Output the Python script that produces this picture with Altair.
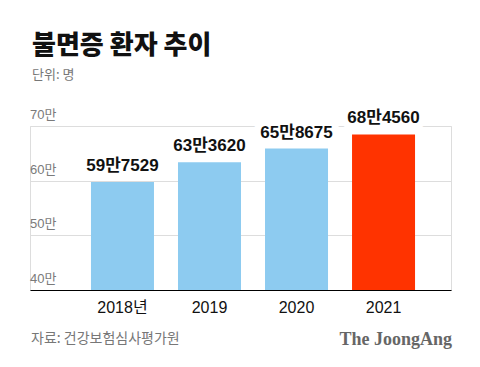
import altair as alt
import pandas as pd

years = ["2018년", "2019", "2020", "2021"]
values = [597529, 633620, 658675, 684560]
value_labels = ["59만7529", "63만3620", "65만8675", "68만4560"]
bar_colors = ["#8DCBF0", "#8DCBF0", "#8DCBF0", "#FF3300"]
tick_values = [400000, 500000, 600000, 700000]
tick_labels = ["40만", "50만", "60만", "70만"]

FONT = "'Liberation Sans', 'Noto Sans CJK KR', sans-serif"
KFONT = "'Noto Sans CJK KR', sans-serif"

df = pd.DataFrame({"year": years, "value": values, "label": value_labels, "color": bar_colors})
ticks_df = pd.DataFrame({"v": tick_values, "t": tick_labels})

W, H = 421, 164

x_enc = alt.X("year:N", sort=years,
              scale=alt.Scale(paddingInner=0.276, paddingOuter=0.557, align=0.629),
              axis=alt.Axis(title=None, labelAngle=0, ticks=False, domainColor="#000000",
                            domainWidth=1.2, labelFontSize=16, labelColor="#111111",
                            labelFont=FONT, labelPadding=9, grid=False, zindex=2))
y_scale = alt.Scale(domain=[400000, 700000], nice=False, zero=False)
y_enc = alt.Y("value:Q", scale=y_scale,
              axis=alt.Axis(title=None, labels=False, ticks=False, domain=False,
                            values=tick_values, grid=True, gridColor="#DDDDDD", gridWidth=1))

base = alt.Chart(df)

halo = base.mark_text(baseline="bottom", dy=-7, fontSize=17, fontWeight="bold", font=FONT,
                      color="white", stroke="white", strokeWidth=14, strokeJoin="round").encode(
    x=x_enc, y=y_enc, text="label:N")

bars = base.mark_bar(clip=True).encode(
    x=x_enc, y=y_enc,
    color=alt.Color("color:N", scale=None))

texts = base.mark_text(baseline="bottom", dy=-7, fontSize=17, fontWeight="bold", font=FONT,
                       color="#111111").encode(x=x_enc, y=y_enc, text="label:N")

ylabels = alt.Chart(ticks_df).mark_text(align="left", baseline="bottom", dy=-4, fontSize=13,
                                        font=FONT, color="#7a7a7a").encode(
    x=alt.value(0), y=alt.Y("v:Q", scale=y_scale), text="t:N")

source = alt.Chart(pd.DataFrame({"t": ["자료: 건강보험심사평가원"]})).mark_text(
    align="left", baseline="middle", fontSize=14, font=KFONT, color="#777777").encode(
    x=alt.value(1), y=alt.value(H + 49), text="t:N")

logo = alt.Chart(pd.DataFrame({"t": ["The JoongAng"]})).mark_text(
    align="right", baseline="middle", fontSize=18, fontWeight="bold",
    font="'Liberation Serif', 'DejaVu Serif', serif", color="#666666").encode(
    x=alt.value(W + 1), y=alt.value(H + 50), text="t:N")

chart = alt.layer(halo, bars, texts, ylabels, source, logo).properties(
    width=W, height=H,
    title=alt.TitleParams(text="불면증 환자 추이", subtitle="단위: 명", anchor="start",
                          frame="group", font=KFONT, fontSize=26, fontWeight=900,
                          color="#111111", subtitleFont=KFONT, subtitleFontSize=13,
                          subtitleColor="#777777", subtitlePadding=10, offset=27, dx=2),
    autosize=alt.AutoSizeParams(type="none"),
    padding={"left": 22, "top": 118, "right": 21, "bottom": 60},
).configure_view(stroke=None).configure(background="white")

chart.save("out.html", embed_options={"renderer": "svg", "actions": False})
